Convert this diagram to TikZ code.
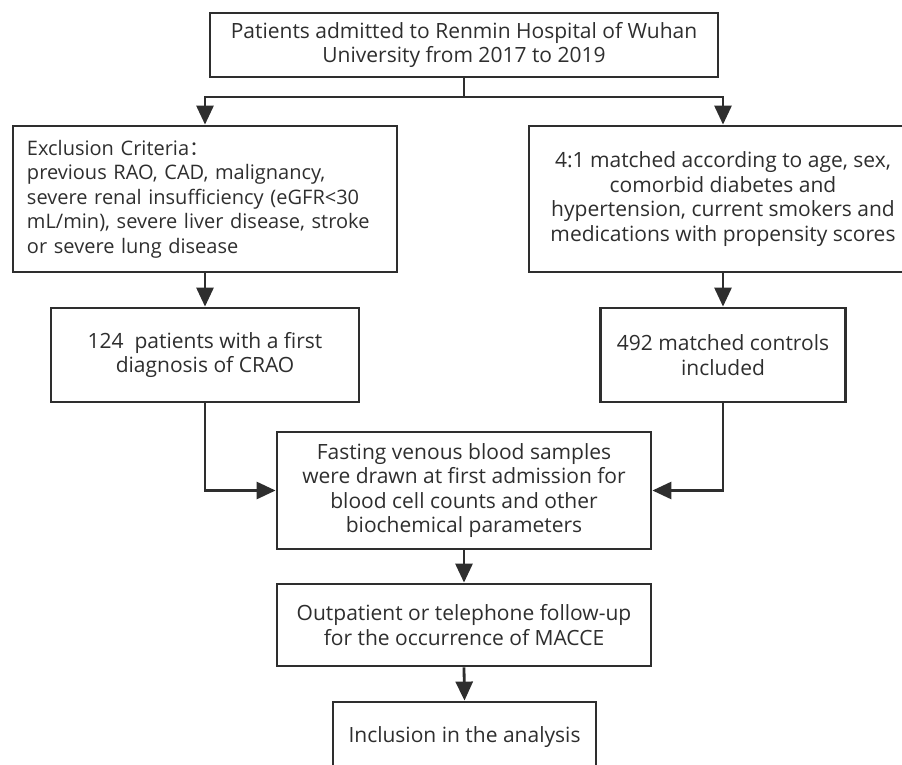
\documentclass[tikz,border=0pt]{standalone}
\usepackage{fontspec}
\setmainfont{Open Sans}
\newfontfamily\cjk{Noto Sans CJK SC}
\usetikzlibrary{arrows.meta}
\definecolor{ink}{HTML}{2E2E2E}

\begin{document}
\begin{tikzpicture}[x=1pt, y=-1pt,
    box/.style={draw=ink, line width=2.8pt, text=ink, inner sep=0pt,
      align=center, font=\fontsize{21}{24.5}\selectfont},
    flow/.style={draw=ink, line width=2.8pt,
      -{Triangle[length=19pt, width=17pt]}}]
  % Page size and clipping
  \useasboundingbox (0,0) rectangle (902,765);
  \clip (0,0) rectangle (902,765);

  % Boxes
  \node[box, minimum width=508pt, minimum height=64pt] (admit) at (464,45)
    {Patients admitted to Renmin Hospital of Wuhan\\University from 2017 to 2019};
  \node[box, minimum width=384pt, minimum height=146pt, inner xsep=14pt,
        text width=356pt, align=left, font=\fontsize{20}{24.5}\selectfont] (excl) at (205,199)
    {Exclusion Criteria{\cjk ：}\\previous RAO, CAD, malignancy,\\severe renal insufficiency (eGFR<30\\mL/min), severe liver disease,~stroke\\or severe lung disease};
  \node[box, minimum width=388pt, minimum height=146pt] (match) at (723,199)
    {4:1 matched according to age, sex,\\comorbid diabetes and\\hypertension, current smokers and\\medications with propensity scores};
  \node[box, minimum width=308pt, minimum height=94pt] (crao) at (205,355)
    {124\ \ patients with a first\\diagnosis of CRAO};
  \node[box, minimum width=245pt, minimum height=94pt] (ctrl) at (723,355)
    {492 matched controls\\included};
  \node[box, minimum width=374pt, minimum height=117pt] (blood) at (464,490.5)
    {Fasting venous blood samples\\were drawn at first admission for\\blood cell counts and other\\biochemical parameters};
  \node[box, minimum width=374pt, minimum height=82pt] (follow) at (464,625)
    {Outpatient or telephone follow-up\\for the occurrence of MACCE};
  \node[box, minimum width=263pt, minimum height=70pt] (incl) at (464.5,737)
    {Inclusion in the analysis};

  % Connectors
  \coordinate (split) at (464,97);
  \draw[draw=ink, line width=2.8pt] (admit.south) -- (split);
  \draw[flow] (split) -| (excl.north);
  \draw[flow] (split) -| (match.north);
  \draw[flow] (excl.south) -- (crao.north);
  \draw[flow] (match.south) -- (ctrl.north);
  \draw[flow] (crao.south) |- (blood.west);
  \draw[flow] (ctrl.south) |- (blood.east);
  \draw[flow] (blood.south) -- (follow.north);
  \draw[flow] (follow.south) -- (incl.north);
\end{tikzpicture}
\end{document}
